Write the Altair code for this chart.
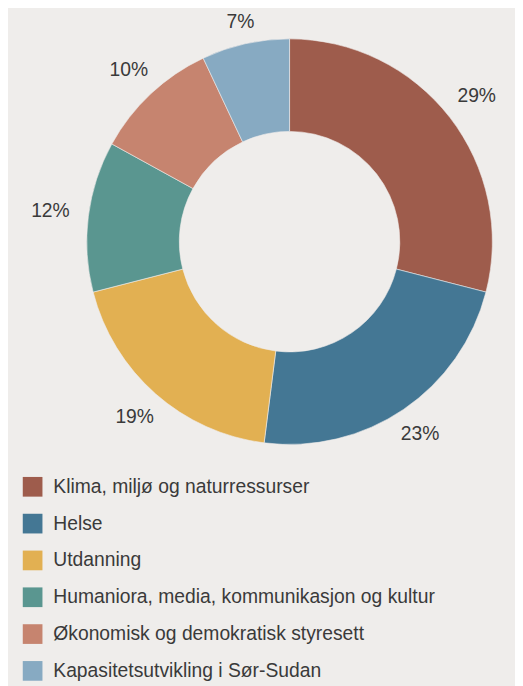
import altair as alt
import pandas as pd

categories = [
    "Klima, miljø og naturressurser",
    "Helse",
    "Utdanning",
    "Humaniora, media, kommunikasjon og kultur",
    "Økonomisk og demokratisk styresett",
    "Kapasitetsutvikling i Sør-Sudan",
]
values = [29, 23, 19, 12, 10, 7]
labels = ["29%", "23%", "19%", "12%", "10%", "7%"]
colors = ["#9E5C4C", "#447794", "#E2B052", "#5A9690", "#C6846F", "#87AAC2"]

df = pd.DataFrame({
    "kategori": categories,
    "andel": values,
    "etikett": labels,
    "rekkefolge": list(range(len(categories))),
})

CX, CY = 286, 232
BG = "#EFEDEB"
FONT = "Liberation Sans"
FS = 19.6

arcs = alt.Chart(df).mark_arc(outerRadius=206, innerRadius=112, stroke=BG, strokeWidth=0.6).encode(
    theta=alt.Theta("andel:Q", stack=True),
    order=alt.Order("rekkefolge:Q", sort="ascending"),
    x=alt.value(CX),
    y=alt.value(CY),
    color=alt.Color(
        "kategori:N",
        scale=alt.Scale(domain=categories, range=colors),
        sort=categories,
        legend=alt.Legend(
            title=None,
            orient="none",
            legendX=15,
            legendY=471,
            direction="vertical",
            symbolType="square",
            symbolSize=400,
            symbolStrokeWidth=0,
            symbolOpacity=1,
            labelFont=FONT,
            labelFontSize=FS,
            labelColor="#3a3a3a",
            labelOffset=11,
            labelLimit=480,
            rowPadding=17.4,
            padding=0,
        ),
    ),
)

text = (
    alt.Chart(df)
    .transform_joinaggregate(total="sum(andel)")
    .transform_window(cum="sum(andel)", sort=[alt.SortField("rekkefolge")], frame=[None, 0])
    .transform_calculate(mid="(datum.cum - datum.andel / 2) / datum.total * 2 * PI")
    .transform_calculate(rad="224 + 21 * abs(sin(datum.mid))")
    .mark_text(font=FONT, fontSize=FS, color="#3a3a3a", align="center", baseline="middle")
    .encode(
        theta=alt.Theta("mid:Q", scale=None),
        radius=alt.Radius("rad:Q", scale=None),
        x=alt.value(CX),
        y=alt.value(CY),
        text="etikett:N",
    )
)

chart = (
    alt.layer(arcs, text)
    .properties(
        width=515,
        height=678,
        autosize=alt.AutoSizeParams(type="none"),
        padding=0,
        background=BG,
    )
    .configure_view(stroke=None)
)

chart.save("out.html", embed_options={"renderer": "svg", "actions": False})
